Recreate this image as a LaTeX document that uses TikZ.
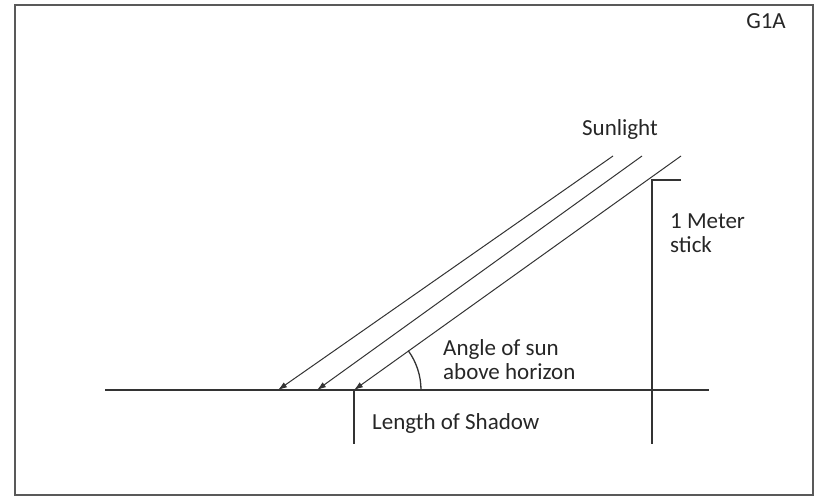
\documentclass[tikz,border=0pt]{standalone}
\usepackage{fontspec}
\setmainfont{Carlito}
\usetikzlibrary{arrows.meta}

\begin{document}
\begin{tikzpicture}[x=1pt,y=-1pt,
  line/.style={draw=black!80,line width=1.3pt},
  ray/.style={draw=black!80,line width=1pt,-{Latex[length=9pt,width=6pt]}},
  lbl/.style={font=\fontsize{23}{24}\selectfont,text=black!85,anchor=west,inner sep=0pt,align=left}]
\useasboundingbox (0,0) rectangle (815,496);
\draw[black!65,line width=2pt] (15,5) rectangle (813,495);
\node[lbl,anchor=center] (tag) at (766,21) {G1A};

% horizon and stick
\coordinate (hl) at (105,390);
\coordinate (hr) at (709,390);
\draw[line] (hl) -- (hr);
\coordinate (stop) at (652,180);
\coordinate (sbot) at (652,444);
\coordinate (scap) at (681,180);
\draw[line] (scap) -- (stop) -- (sbot);
\coordinate (shtop) at (354,390);
\coordinate (shbot) at (354,444);
\draw[line] (shtop) -- (shbot);

% sunlight rays
\coordinate (r1a) at (613,156);
\coordinate (r1b) at (278,390);
\coordinate (r2a) at (642,156);
\coordinate (r2b) at (317,390);
\coordinate (r3a) at (681,156);
\coordinate (r3b) at (354,390);
\draw[ray] (r1a) -- (r1b);
\draw[ray] (r2a) -- (r2b);
\draw[ray] (r3a) -- (r3b);

% angle
\draw[line] ([xshift=67pt]shtop) arc[start angle=0,end angle=36,radius=67pt];

\node[lbl,anchor=center] (sun) at (620,129) {Sunlight};
\node[lbl] (meter) at (670,233) {1 Meter\\stick};
\node[lbl] (angle) at (443,360) {Angle of sun\\above horizon};
\node[lbl] (shadow) at (372,423) {Length of Shadow};
\end{tikzpicture}
\end{document}
